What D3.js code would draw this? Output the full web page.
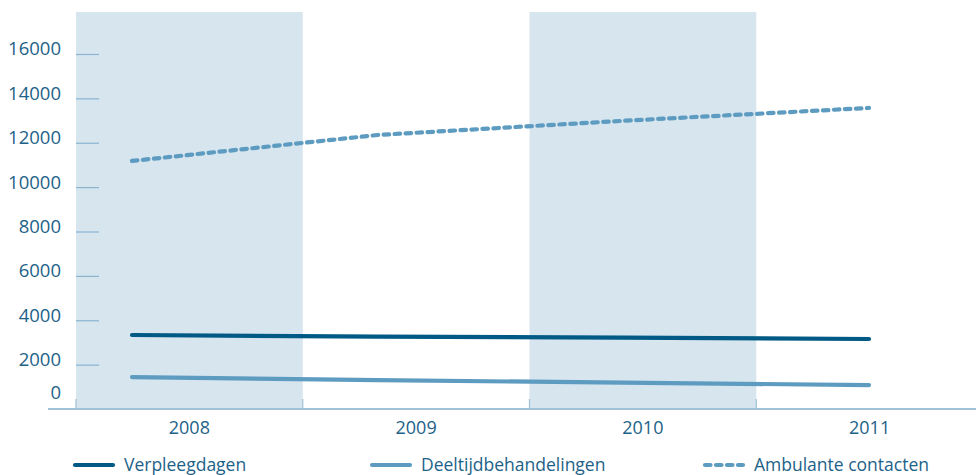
<!DOCTYPE html>
<html>
<head>
<meta charset="utf-8">
<script src="https://cdn.jsdelivr.net/npm/d3@7"></script>
<style>
  body { margin: 0; background: #fff; }
  text { font-family: "Open Sans", sans-serif; fill: #1d6288; }
</style>
</head>
<body>
<div id="vis"></div>
<script>
var years = ['2008', '2009', '2010', '2011'];
var shaded = ['2008', '2010'];
var seriesNames = ['Verpleegdagen', 'Deeltijdbehandelingen', 'Ambulante contacten'];
var verpleegdagen = [3335, 3260, 3215, 3155];
var deeltijd = [1440, 1305, 1185, 1080];
var ambulant = [11180, 12350, 12990, 13570];
var yTicks = [0, 2000, 4000, 6000, 8000, 10000, 12000, 14000, 16000];

var width = 976, height = 475;
var colors = ['#015a85', '#5d9cc0', '#5d9cc0'];

var svg = d3.select('#vis').append('svg')
    .attr('width', width)
    .attr('height', height);

var xBand = d3.scaleBand().domain(years).range([76, 983]).padding(0);
var xLine = d3.scalePoint().domain(years).range([132, 869]);
var y = d3.scaleLinear().domain([0, 16000]).range([409, 54]);

// shaded year bands
svg.selectAll('.band')
    .data(shaded)
    .enter().append('rect')
    .attr('class', 'band')
    .attr('x', d => xBand(d))
    .attr('y', 12)
    .attr('width', xBand.bandwidth())
    .attr('height', 409 - 12)
    .attr('fill', '#d7e5ef');

// y tick stubs
var yStub = d3.axisRight(y).tickValues(yTicks.filter(d => d > 0)).tickSize(23).tickFormat('');
svg.append('g')
    .attr('transform', 'translate(76,0)')
    .call(yStub)
    .call(g => g.select('.domain').remove())
    .call(g => g.selectAll('line').attr('stroke', '#8ab4d0').attr('stroke-width', 1.2));

// y labels
var yAxis = d3.axisLeft(y).tickValues(yTicks).tickSize(0).tickPadding(0).tickFormat(d3.format('d'));
svg.append('g')
    .attr('transform', 'translate(61,0)')
    .call(yAxis)
    .call(g => g.select('.domain').remove())
    .call(g => g.selectAll('text')
        .attr('dy', d => d === 0 ? '-0.55em' : '0.05em')
        .style('font-size', '18.5px')
        .attr('fill', '#1d6288'));

// x axis baseline
svg.append('line')
    .attr('x1', 48).attr('x2', width)
    .attr('y1', 409).attr('y2', 409)
    .attr('stroke', '#9fc2d9')
    .attr('stroke-width', 1.8);

// band boundary ticks
var bounds = years.map(d => xBand(d));
svg.selectAll('.btick')
    .data(bounds)
    .enter().append('line')
    .attr('x1', d => d).attr('x2', d => d)
    .attr('y1', 399).attr('y2', 409)
    .attr('stroke', '#9fc2d9')
    .attr('stroke-width', 1.2);

// x labels
svg.selectAll('.xlabel')
    .data(years)
    .enter().append('text')
    .attr('x', d => xBand(d) + xBand.bandwidth() / 2)
    .attr('y', 428)
    .attr('dy', '0.35em')
    .attr('text-anchor', 'middle')
    .style('font-size', '18px')
    .text(d => d);

// lines
var line = d3.line()
    .x((d, i) => xLine(years[i]))
    .y(d => y(d));

var series = [verpleegdagen, deeltijd, ambulant];
var dashes = [null, null, '5.5,5.5'];

series.forEach(function(s, i) {
    svg.append('path')
        .datum(s)
        .attr('d', line)
        .attr('fill', 'none')
        .attr('stroke', colors[i])
        .attr('stroke-width', 4.2)
        .attr('stroke-linecap', 'round')
        .attr('stroke-dasharray', dashes[i]);
});

// legend
var legendX = [75, 372, 705];
var legend = svg.selectAll('.legend')
    .data(seriesNames)
    .enter().append('g')
    .attr('transform', (d, i) => 'translate(' + legendX[i] + ',465)');

legend.append('line')
    .attr('x1', 0).attr('x2', 38)
    .attr('y1', 0).attr('y2', 0)
    .attr('stroke', (d, i) => colors[i])
    .attr('stroke-width', 4.2)
    .attr('stroke-linecap', 'round')
    .attr('stroke-dasharray', (d, i) => dashes[i]);

legend.append('text')
    .attr('x', 49)
    .attr('y', 0)
    .attr('dy', '0.35em')
    .style('font-size', '17.5px')
    .text(d => d);
</script>
</body>
</html>
